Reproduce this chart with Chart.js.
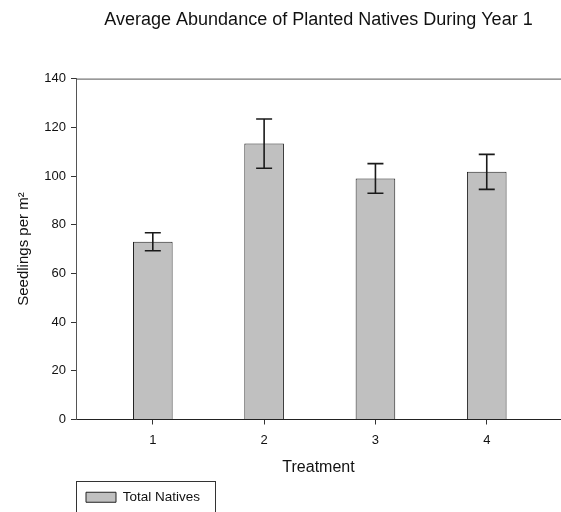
<!DOCTYPE html>
<html>
<head>
<meta charset="utf-8">
<script src="https://cdn.jsdelivr.net/npm/chart.js@4"></script>
<style>
  body { margin: 0; background: #fff; }
  #wrap { width: 561px; height: 512px; }
</style>
</head>
<body>
<div id="wrap"><canvas id="abundanceChart"></canvas></div>
<script>
// data
var treatments = [1, 2, 3, 4];
var meanSeedlings = [73, 113.3, 99, 101.7];
var stdErrors = [3.7, 10.1, 6.1, 7.2];
var yTicks = [0, 20, 40, 60, 80, 100, 120, 140];

var font = "'Liberation Sans', Arial, Helvetica, sans-serif";

// error bars on top of each bar
var errorBars = {
  id: "errorBars",
  afterDatasetsDraw: function (chart) {
    var ctx = chart.ctx;
    var xs = chart.scales.x;
    var ys = chart.scales.y;
    ctx.save();
    ctx.strokeStyle = "#1a1a1a";
    ctx.lineWidth = 1.6;
    for (var i = 0; i < treatments.length; i++) {
      var x = xs.getPixelForValue(treatments[i]);
      var hi = ys.getPixelForValue(meanSeedlings[i] + stdErrors[i]);
      var lo = ys.getPixelForValue(meanSeedlings[i] - stdErrors[i]);
      ctx.beginPath();
      ctx.moveTo(x, hi); ctx.lineTo(x, lo);
      ctx.moveTo(x - 8, hi); ctx.lineTo(x + 8, hi);
      ctx.moveTo(x - 8, lo); ctx.lineTo(x + 8, lo);
      ctx.stroke();
    }
    ctx.restore();
  }
};

// top frame line + box round the legend
var frame = {
  id: "frame",
  afterDraw: function (chart) {
    var ctx = chart.ctx;
    var a = chart.chartArea;
    ctx.save();
    ctx.strokeStyle = "#555";
    ctx.lineWidth = 1;
    ctx.beginPath();
    ctx.moveTo(a.left, a.top + 0.5);
    ctx.lineTo(a.right, a.top + 0.5);
    ctx.stroke();

    var lg = chart.legend;
    var hb = lg.legendHitBoxes[0];
    ctx.strokeStyle = "#333";
    ctx.strokeRect(Math.round(lg.left) + 0.5, Math.round(lg.top) + 0.5,
      Math.round(hb.left + hb.width - lg.left + 15), 60);
    ctx.restore();
  }
};

new Chart("abundanceChart", {
  type: "bar",
  data: {
    datasets: [
      {
        label: "Total Natives",
        data: treatments.map(function (t, i) { return { x: t, y: meanSeedlings[i] }; }),
        backgroundColor: "#c0c0c0",
        borderColor: "#222",
        borderWidth: 1,
        categoryPercentage: 1,
        barPercentage: 0.356,
      },
    ],
  },
  options: {
    responsive: true,
    maintainAspectRatio: false,
    animation: false,
    layout: { padding: { left: 0, right: 0, top: 0, bottom: -2 } },
    plugins: {
      title: {
        display: true,
        fullSize: false,
        text: "Average Abundance of Planted Natives During Year 1",
        color: "#111",
        font: { family: font, size: 18, weight: "normal" },
        padding: { top: 9, bottom: 48 },
      },
      legend: {
        position: "bottom",
        align: "start",
        fullSize: false,
        labels: {
          color: "#111",
          font: { family: font, size: 13.5 },
          boxWidth: 30,
          boxHeight: 10,
          padding: 10,
        },
      },
      tooltip: { enabled: false },
    },
    scales: {
      x: {
        type: "linear",
        offset: false,
        min: 0.31,
        max: 4.667,
        afterBuildTicks: function (scale) {
          scale.ticks = treatments.map(function (v) { return { value: v }; });
        },
        afterFit: function (scale) { scale.height = 61; },
        grid: { drawOnChartArea: false, offset: false, tickLength: 5, color: "#333" },
        border: { color: "#222", width: 1 },
        ticks: { color: "#111", font: { family: font, size: 13 }, padding: 8 },
        title: {
          display: true,
          text: "Treatment",
          color: "#111",
          font: { family: font, size: 16 },
          padding: { top: 0, bottom: 3 },
        },
      },
      y: {
        min: 0,
        max: 140,
        afterBuildTicks: function (scale) {
          scale.ticks = yTicks.map(function (v) { return { value: v }; });
        },
        afterFit: function (scale) { scale.width = 76; },
        grid: { drawOnChartArea: false, tickLength: 5, color: "#333" },
        border: { color: "#555", width: 1 },
        ticks: { color: "#111", font: { family: font, size: 13 }, padding: 5 },
        title: {
          display: true,
          text: "Seedlings per m\u00b2",
          color: "#111",
          font: { family: font, size: 15 },
          padding: { top: 15, bottom: 0 },
        },
      },
    },
  },
  plugins: [errorBars, frame],
});
</script>
</body>
</html>
